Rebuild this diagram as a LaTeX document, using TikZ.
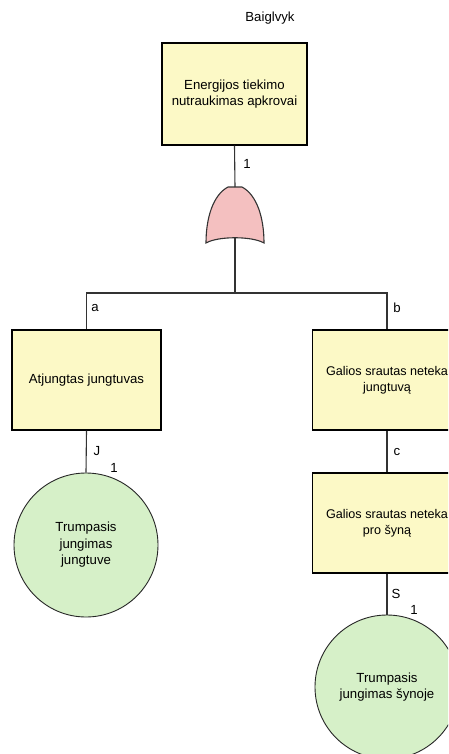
\documentclass[tikz,border=0pt]{standalone}
\usepackage{fontspec}
\setmainfont{Liberation Sans}
\definecolor{boxfill}{RGB}{252,249,198}
\definecolor{circfill}{RGB}{214,240,200}
\definecolor{gatefill}{RGB}{244,192,192}
\begin{document}
\begin{tikzpicture}[x=1pt,y=-1pt,
  every node/.style={font=\fontsize{13.2}{16.5}\selectfont},
  event/.style={draw=black, line width=1.4pt, fill=boxfill, minimum width=149pt,
    minimum height=100pt, align=center, inner sep=2pt},
  edgeevent/.style={event, font=\fontsize{12.6}{16.5}\selectfont},
  basic/.style={circle, draw=black!85, line width=0.9pt, fill=circfill,
    minimum size=144pt, align=center, inner sep=0pt},
  wire/.style={draw=black!80, line width=1.1pt},
  gatestyle/.style={draw=black!80, line width=1.1pt, fill=gatefill},
  lbl/.style={inner sep=0pt}
]
\useasboundingbox (0,0) rectangle (448,754);
\clip (0,0) rectangle (448,754);

% top event
\node[lbl] (title) at (270,18) {Baiglvyk};
\node[event, minimum width=145pt, minimum height=102pt] (top) at (234.5,94)
  {Energijos tiekimo\\nutraukimas apkrovai};

% OR gate
\coordinate (gtop) at (235,187);
\coordinate (gbot) at (235,237);
\draw[gatestyle] (206,243) .. controls (206,218) and (213,195) .. (228,187)
  -- (242,187) .. controls (257,195) and (264,218) .. (264,243)
  .. controls (252,236) and (218,236) .. (206,243) -- cycle;
\node[lbl] (g1) at (247,164) {1};

% intermediate events
\node[event] (lbox) at (86.5,380) {Atjungtas jungtuvas};
\node[edgeevent] (rbox) at (387,380) {Galios srautas neteka\\jungtuvą};
\node[edgeevent] (mbox) at (387,523) {Galios srautas neteka\\pro šyną};

% basic events
\node[basic] (lcirc) at (86,545) {Trumpasis\\jungimas\\jungtuve};
\node[basic] (rcirc) at (387,687) {Trumpasis\\jungimas šynoje};

% connectors
\coordinate (bus) at (235,293);
\draw[wire] (top.south) -- (gtop);
\draw[wire] (gbot) -- (bus);
\draw[wire] (lbox.north) |- (bus) -| (rbox.north);
\draw[wire] (lbox.south) -- (lcirc.north);
\draw[wire] (rbox.south) -- (mbox.north);
\draw[wire] (mbox.south) -- (rcirc.north);

% connector labels
\node[lbl] (la) at (95,308) {a};
\node[lbl] (lb) at (397,308) {b};
\node[lbl] (lJ) at (97,451) {J};
\node[lbl] (lJ1) at (114,468) {1};
\node[lbl] (lc) at (397,452) {c};
\node[lbl] (lS) at (396,594) {S};
\node[lbl] (lS1) at (414,610) {1};
\end{tikzpicture}
\end{document}
